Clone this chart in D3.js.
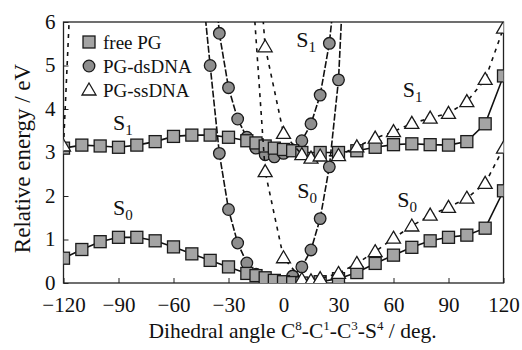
<!DOCTYPE html>
<html><head><meta charset="utf-8">
<script src="https://cdn.jsdelivr.net/npm/d3@7"></script>
<style>body{margin:0;background:#fff}svg{display:block}text{font-family:"Liberation Serif","Times New Roman",serif;fill:#111}</style>
</head><body><svg id="c" width="522" height="350"></svg>
<script>
// ---- data (eV vs. dihedral angle, deg) ----
const xTicks = [-120,-90,-60,-30,0,30,60,90,120];
const yTicks = [0,1,2,3,4,5,6];
const freeX  = [-120,-110,-100,-90,-80,-70,-60,-50,-40,-30,-20,-15,-10,-5,0,5,10,20,30,40,50,60,70,80,90,100,110,120];
const freeS0 = [0.57,0.77,0.95,1.05,1.05,0.97,0.83,0.67,0.52,0.37,0.22,0.17,0.12,0.06,0.03,0.01,0.0,0.03,0.1,0.24,0.45,0.64,0.82,0.97,1.05,1.1,1.26,2.12];
const freeS1 = [3.1,3.17,3.15,3.12,3.17,3.25,3.37,3.4,3.4,3.35,3.27,3.22,3.15,3.1,3.07,3.04,3.0,3.0,3.0,3.04,3.12,3.18,3.2,3.18,3.17,3.25,3.66,4.76];
const dsX0  = [-45,-40,-35,-30,-25,-20,-15,-10,-5,0,5,10,15,20,25,30,35];
const dsS0  = [7.1,5.0,2.98,1.69,0.92,0.46,0.2,0.06,0.0,0.02,0.16,0.37,0.76,1.48,2.67,4.67,9.0];
const dsX1  = [-40,-35,-30,-25,-20,-15,-10,-5,0,5,10,15,20,25,30];
const dsS1  = [8.2,5.74,4.49,3.77,3.35,3.1,2.95,2.9,2.98,3.06,3.27,3.66,4.32,5.51,7.5];
const ssX0  = [-20,-10,0,10,15,20,30,40,50,60,70,80,90,100,110,120];
const ssS0  = [8.7,2.56,0.58,0.08,0.05,0.1,0.22,0.45,0.72,1.03,1.31,1.56,1.74,1.95,2.29,3.1];
const ssX1  = [-120,-110,-20,-10,0,10,15,20,30,40,50,60,70,80,90,100,110,120];
const ssS1  = [3.15,12.5,11,5.43,3.44,2.95,2.87,2.92,2.93,3.13,3.33,3.48,3.67,3.79,3.9,4.17,4.68,5.86];
const legendNames = ["free PG","PG-dsDNA","PG-ssDNA"];
const stateLabels = [
  {s:"1", x:-93, y:3.52}, {s:"0", x:-93, y:1.56},
  {s:"1", x:7, y:5.43}, {s:"0", x:7.5, y:1.95},
  {s:"1", x:65, y:4.28}, {s:"0", x:62, y:1.75}
];

const svg = d3.select("#c");
const L=63.5, R=503.5, T=22, B=283;
const x = d3.scaleLinear().domain([-120,120]).range([L,R]);
const y = d3.scaleLinear().domain([0,6]).range([B,T]);

svg.append("defs").append("clipPath").attr("id","clip")
  .append("rect").attr("x",L).attr("y",T).attr("width",R-L).attr("height",B-T);

// axes
const ax = svg.append("g").attr("transform",`translate(0,${B})`)
  .call(d3.axisBottom(x).tickValues(xTicks).tickSize(-5).tickPadding(14).tickFormat(d3.format("d")));
const ay = svg.append("g").attr("transform",`translate(${L},0)`)
  .call(d3.axisLeft(y).tickValues(yTicks).tickSize(-5).tickPadding(9).tickFormat(d3.format("d")));
[ax,ay].forEach(g=>{
  g.select(".domain").remove();
  g.selectAll(".tick line").attr("stroke","#222").attr("stroke-width",1);
  g.selectAll("text").style("font-size","21px").style("font-family","Liberation Serif").attr("fill","#111");
});
ax.selectAll("text").attr("dy","0.71em").attr("y",14.5);
ay.selectAll("text").attr("x",-8).attr("dy","0.3em");
svg.append("rect").attr("x",L).attr("y",T).attr("width",R-L).attr("height",B-T)
  .attr("fill","none").attr("stroke","#222").attr("stroke-width",1.3);

const plot = svg.append("g").attr("clip-path","url(#clip)");
const line = d3.line().x(d=>x(d[0])).y(d=>y(d[1]));
const zip = (a,b)=>a.map((v,i)=>[v,b[i]]);

function series(xs, ys, dash, marker){
  const pts = zip(xs,ys);
  plot.append("path").datum(pts).attr("d",line).attr("fill","none")
    .attr("stroke","#111").attr("stroke-width",1.6).attr("stroke-dasharray",dash);
  const g = plot.append("g");
  pts.forEach(p=>drawMarker(g, marker, x(p[0]), y(p[1])));
}
function drawMarker(g, m, cx, cy){
  if(m==="sq") g.append("rect").attr("x",cx-6).attr("y",cy-6).attr("width",12).attr("height",12)
      .attr("fill","#a4a4a4").attr("stroke","#1a1a1a").attr("stroke-width",1.3);
  else if(m==="ci") g.append("circle").attr("cx",cx).attr("cy",cy).attr("r",5.8)
      .attr("fill","#8e8e8e").attr("stroke","#1a1a1a").attr("stroke-width",1.3);
  else g.append("path").attr("d",`M${cx},${cy-7}L${cx+7},${cy+5}L${cx-7},${cy+5}Z`)
      .attr("fill","#fff").attr("stroke","#1a1a1a").attr("stroke-width",1.3);
}

series(dsX0, dsS0, "7,2", "ci");
series(dsX1, dsS1, "7,2", "ci");
series(freeX, freeS0, null, "sq");
series(freeX, freeS1, null, "sq");
series(ssX0, ssS0, "4,5", "tr");
series(ssX1, ssS1, "4,5", "tr");

// state labels
stateLabels.forEach(l=>{
  const t = svg.append("text").attr("x",x(l.x)).attr("y",y(l.y)).style("font-size","22px");
  t.append("tspan").text("S");
  t.append("tspan").attr("dy",5).style("font-size","15px").text(l.s);
});

// legend
const markers = ["sq","ci","tr"];
const lg = svg.append("g");
legendNames.forEach((n,i)=>{
  const ly = 42 + i*24;
  drawMarker(lg, markers[i], 89, ly);
  lg.append("text").attr("x",103).attr("y",ly+6.5).style("font-size","19px").text(n);
});

// axis titles
svg.append("text").attr("transform",`translate(30,${(T+B)/2+6}) rotate(-90)`)
  .attr("text-anchor","middle").style("font-size","23px").text("Relative energy / eV");
const xt = svg.append("text").attr("x",(L+R)/2+9).attr("y",338).attr("text-anchor","middle").style("font-size","21.5px");
xt.append("tspan").text("Dihedral angle C");
xt.append("tspan").attr("dy",-8).style("font-size","13px").text("8");
xt.append("tspan").attr("dy",8).text("-C");
xt.append("tspan").attr("dy",-8).style("font-size","13px").text("1");
xt.append("tspan").attr("dy",8).text("-C");
xt.append("tspan").attr("dy",-8).style("font-size","13px").text("3");
xt.append("tspan").attr("dy",8).text("-S");
xt.append("tspan").attr("dy",-8).style("font-size","13px").text("4");
xt.append("tspan").attr("dy",8).text(" / deg.");
</script></body></html>
